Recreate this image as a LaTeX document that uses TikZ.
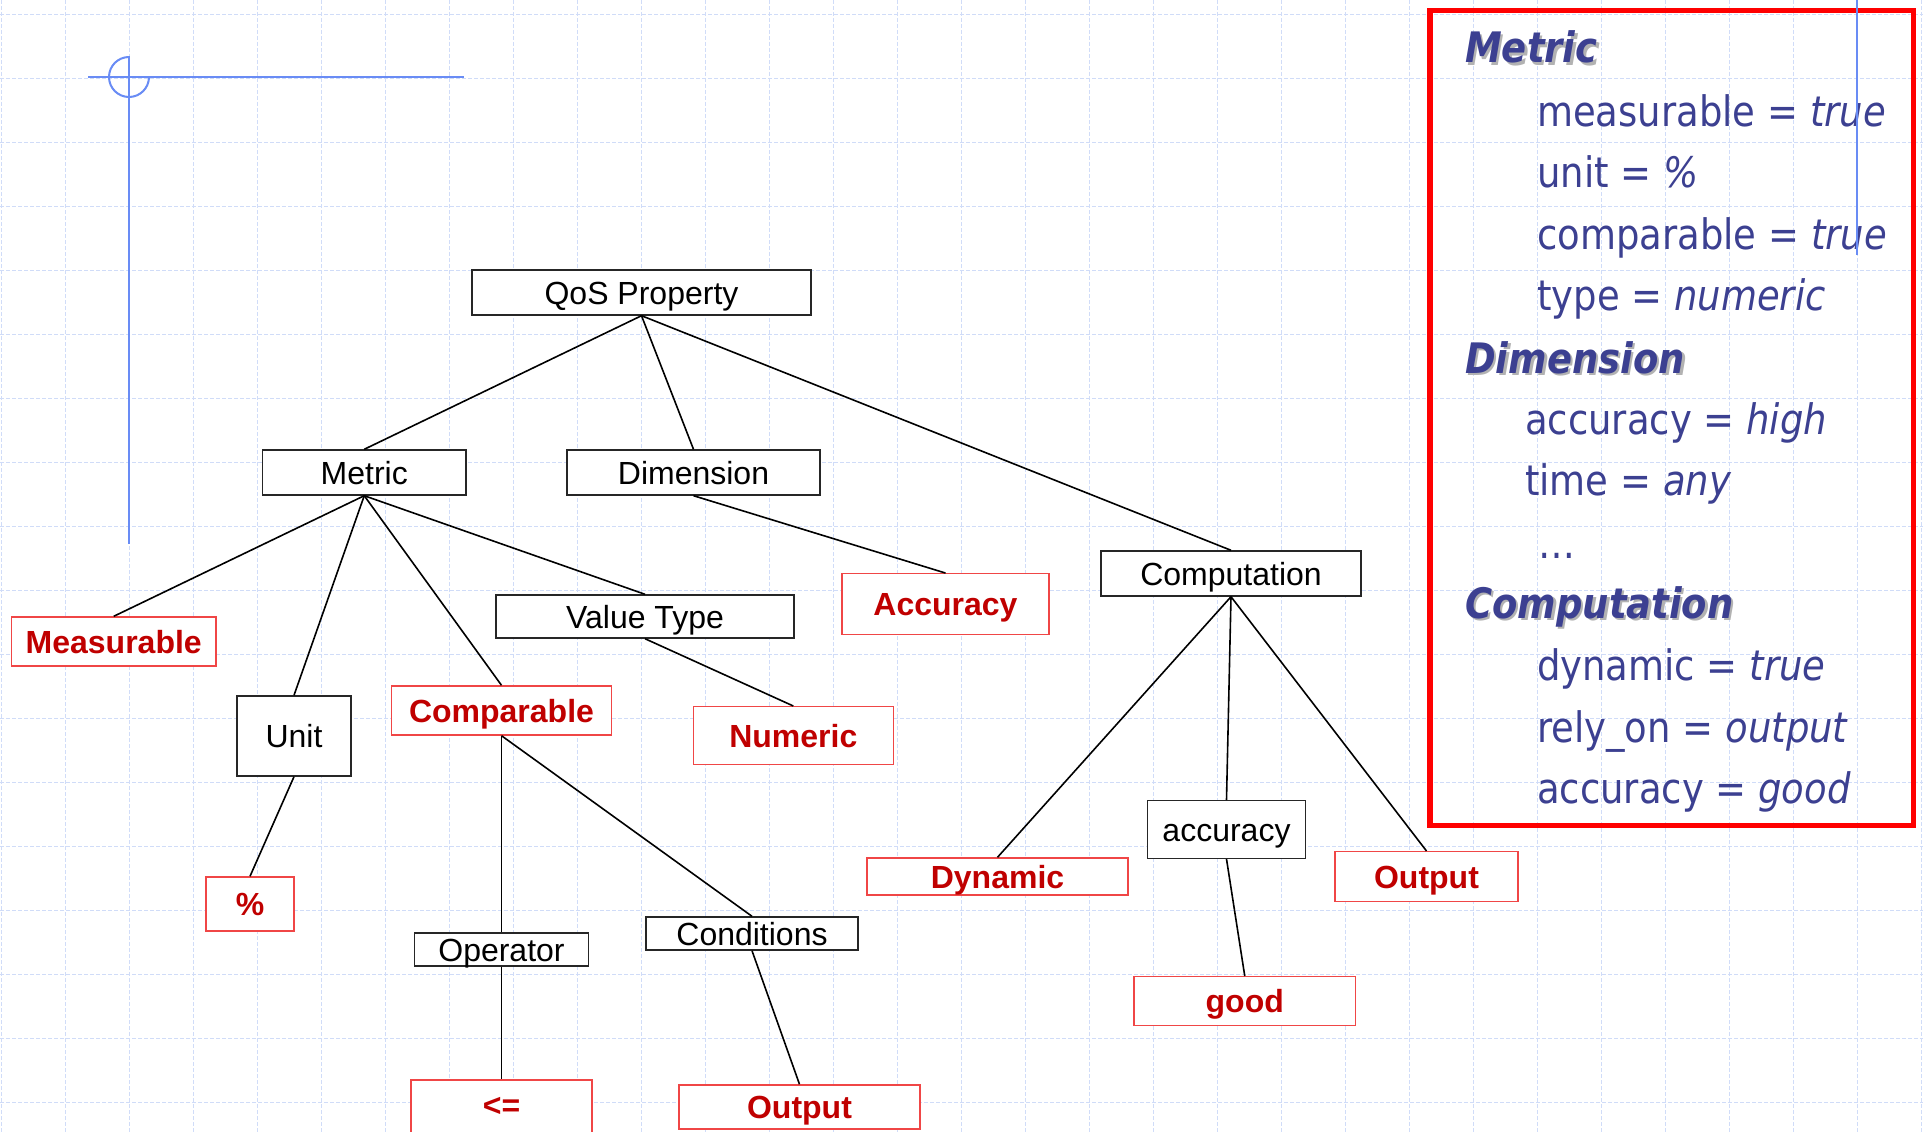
\documentclass[tikz,border=0pt]{standalone}
\usepackage{fontspec}
\setmainfont{Liberation Sans}
\newfontfamily\panelfont[FakeStretch=0.88]{DejaVu Sans}
\definecolor{gridblue}{RGB}{208,220,248}
\definecolor{guideblue}{RGB}{105,140,245}
\definecolor{boxred}{RGB}{240,70,70}
\definecolor{textred}{RGB}{192,0,0}
\definecolor{paneltext}{RGB}{60,64,145}
\definecolor{panelred}{RGB}{255,0,0}

\begin{document}
\begin{tikzpicture}[x=1pt,y=-1pt,
  gridline/.style={draw=gridblue, line width=0.9pt, dash pattern=on 4pt off 2pt},
  guide/.style={draw=guideblue, line width=2pt},
  conn/.style={draw=black, line width=1.6pt},
  nodebase/.style={rectangle, fill=white, inner sep=0pt, line width=1.4pt,
    text height=23pt, text depth=0pt, font=\fontsize{32}{38}\selectfont},
  blackbox/.style={nodebase, draw=black!85, text=black},
  redbox/.style={nodebase, draw=boxred, text=textred,
    font=\fontsize{32}{38}\selectfont\bfseries},
  sz/.style 2 args={minimum width=#1pt, minimum height=#2pt},
  ptext/.style={anchor=base west, inner sep=0pt, text=paneltext,
    font=\panelfont\fontsize{42}{50}\selectfont},
  phead/.style={ptext, font=\panelfont\fontsize{42}{50}\selectfont\bfseries\itshape},
  pshadow/.style={phead, text=black!30},
]
% page and background grid
\useasboundingbox (0,0) rectangle (1923,1132);
\fill[white] (0,0) rectangle (1923,1132);
\foreach \k in {0,...,30}
  \draw[gridline] ({1+64*\k},0) -- ({1+64*\k},1132);
\foreach \k in {0,...,17}
  \draw[gridline] (0,{14+64*\k}) -- (1923,{14+64*\k});

% blue guide marks
\draw[guide] (88,77) -- (464,77);
\draw[guide] (129,56) -- (129,544);
\draw[guide] (129,57) arc[start angle=-90, end angle=-360, radius=20];

% attribute panel
\draw[panelred, line width=5.5pt] (1430,10.5) rectangle (1913.5,825.5);
\node[pshadow] (hmetricsh) at (1467.5,65.5) {Metric};
\node[phead] (hmetric) at (1465,63) {Metric};
\node[ptext] (pm1) at (1537,126) {measurable = \textit{true}};
\node[ptext] (pm2) at (1537,187) {unit = \textit{\%}};
\node[ptext] (pm3) at (1537,249) {comparable = \textit{true}};
\node[ptext] (pm4) at (1537,310) {type = \textit{numeric}};
\node[pshadow] (hdimsh) at (1467.5,375.5) {Dimension};
\node[phead] (hdim) at (1465,373) {Dimension};
\node[ptext] (pd1) at (1525,434) {accuracy = \textit{high}};
\node[ptext] (pd2) at (1525,495) {time = \textit{any}};
\node[ptext] (pd3) at (1538,558) {…};
\node[pshadow] (hcompsh) at (1467.5,620.5) {Computation};
\node[phead] (hcomp) at (1465,618) {Computation};
\node[ptext] (pc1) at (1537,680) {dynamic = \textit{true}};
\node[ptext] (pc2) at (1537,742) {rely\_on = \textit{output}};
\node[ptext] (pc3) at (1537,803) {accuracy = \textit{good}};
\draw[guideblue, line width=1.5pt] (1857,0) -- (1857,255);

% tree nodes
\node[blackbox, sz={339}{45}] (qos) at (641.5,292.5) {QoS Property};
\node[blackbox, sz={203.5}{45}] (metric) at (364.25,472.5) {Metric};
\node[blackbox, sz={253}{45}] (dimension) at (693.5,472.5) {Dimension};
\node[blackbox, sz={298}{43}] (valuetype) at (645,616.5) {Value Type};
\node[blackbox, sz={260}{45}] (computation) at (1231,573.5) {Computation};
\node[redbox, sz={204.5}{49}] (measurable) at (113.75,641.5) {Measurable};
\node[blackbox, sz={114}{80}] (unit) at (294,736) {Unit};
\node[redbox, sz={88}{54}] (percent) at (250,904) {\%};
\node[redbox, sz={220}{49}] (comparable) at (501.5,710.5) {Comparable};
\node[redbox, sz={200}{58}] (numeric) at (793.3,735.7) {Numeric};
\node[redbox, sz={207}{60.5}] (accuracyprop) at (945.5,604) {Accuracy};
\node[blackbox, sz={174}{33}] (operator) at (501.5,949.5) {Operator};
\node[blackbox, sz={212}{33}] (conditions) at (752,933.5) {Conditions};
\node[redbox, sz={181}{64}] (lessequal) at (501.5,1112) {\raisebox{7pt}{<=}};
\node[redbox, sz={241}{44}] (outputcond) at (799.5,1107) {Output};
\node[redbox, sz={261}{37}] (dynamic) at (997.5,876.5) {Dynamic};
\node[blackbox, sz={157.7}{57.6}] (accuracyval) at (1226.5,829.5) {accuracy};
\node[redbox, sz={183}{49.6}] (outputcomp) at (1426.5,876.5) {Output};
\node[redbox, sz={221.5}{49}] (good) at (1244.75,1001.2) {good};

% tree edges
\draw[conn] (qos.south) -- (metric.north);
\draw[conn] (qos.south) -- (dimension.north);
\draw[conn] (qos.south) -- (computation.north);
\draw[conn] (metric.south) -- (measurable.north);
\draw[conn] (metric.south) -- (unit.north);
\draw[conn] (metric.south) -- (comparable.north);
\draw[conn] (metric.south) -- (valuetype.north);
\draw[conn] (dimension.south) -- (accuracyprop.north);
\draw[conn] (valuetype.south) -- (numeric.north);
\draw[conn] (unit.south) -- (percent.north);
\draw[conn] (comparable.south) -- (operator.north);
\draw[conn] (comparable.south) -- (conditions.north);
\draw[conn] (operator.south) -- (lessequal.north);
\draw[conn] (conditions.south) -- (outputcond.north);
\draw[conn] (computation.south) -- (dynamic.north);
\draw[conn] (computation.south) -- (accuracyval.north);
\draw[conn] (computation.south) -- (outputcomp.north);
\draw[conn] (accuracyval.south) -- (good.north);
\end{tikzpicture}
\end{document}
